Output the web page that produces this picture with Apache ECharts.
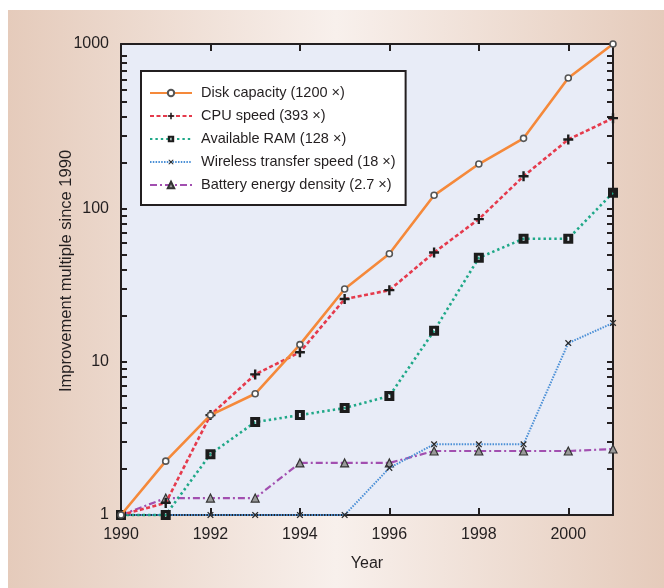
<!DOCTYPE html>
<html>
<head>
<meta charset="utf-8">
<script src="https://cdn.jsdelivr.net/npm/echarts@6/dist/echarts.min.js"></script>
<style>
  html, body { margin: 0; padding: 0; background: #ffffff; }
  #chart { width: 664px; height: 588px; }
</style>
</head>
<body>
<div id="chart"></div>
<script>
// Years on the horizontal axis
const years = [1990, 1991, 1992, 1993, 1994, 1995, 1996, 1997, 1998, 1999, 2000, 2001];

// Improvement multiple relative to 1990, one array per technology
const diskCapacity   = [1, 2.25, 4.5, 6.2, 13, 30, 51, 123, 197, 290, 720, 1200];
const cpuSpeed       = [1, 1.2, 4.5, 8.3, 11.6, 25.8, 29.5, 52, 86, 164, 285, 393];
const availableRam   = [1, 1, 2.5, 4.05, 4.5, 5, 6, 16, 48, 64, 64, 128];
const wirelessSpeed  = [1, 1, 1, 1, 1, 1, 2.03, 2.9, 2.9, 2.9, 13.3, 18];
const batteryDensity = [1, 1.29, 1.29, 1.29, 2.19, 2.19, 2.19, 2.62, 2.62, 2.62, 2.62, 2.7];

const seriesNames = [
  'Disk capacity (1200 \u00d7)',
  'CPU speed (393 \u00d7)',
  'Available RAM (128 \u00d7)',
  'Wireless transfer speed (18 \u00d7)',
  'Battery energy density (2.7 \u00d7)'
];

// Axis ticks and labels
const xLabelYears = [1990, 1992, 1994, 1996, 1998, 2000];
const yAxisTop = 1200;                     // upper end of the log axis
const yLabelValues = [1, 10, 100, yAxisTop];
const yLabelTexts  = ['1', '10', '100', '1000'];
const yTickValues  = [2, 3, 4, 5, 6, 7, 8, 9, 10, 20, 30, 40, 50, 60, 70, 80, 90, 100,
                      200, 300, 400, 500, 600, 700, 800, 900, 1000];

const FONT = '"Liberation Sans", Arial, sans-serif';
const INK = '#231f20';

const pairs = vals => years.map((y, i) => [y, vals[i]]);

const plusPath  = 'path://M3.8,0H6.2V3.8H10V6.2H6.2V10H3.8V6.2H0V3.8H3.8Z';
const crossPath = 'path://M4.2,0H5.8V4.2H10V5.8H5.8V10H4.2V5.8H0V4.2H4.2Z';
const boxPath   = 'path://M0,0H10V10H0Z M4,3V7H6V3Z';

const chart = echarts.init(document.getElementById('chart'), null, { renderer: 'canvas' });

const xAxisBase = {
  type: 'value', min: 1990, max: 2001,
  axisLine: { show: true, lineStyle: { color: INK, width: 2 } },
  splitLine: { show: false },
  axisTick: { show: true, inside: true, length: 7, lineStyle: { color: INK, width: 2 },
              customValues: xLabelYears }
};
const yAxisBase = {
  type: 'log', logBase: 10, min: 1, max: yAxisTop,
  axisLine: { show: true, lineStyle: { color: INK, width: 2 } },
  splitLine: { show: false },
  axisTick: { show: true, inside: true, length: 6, lineStyle: { color: INK, width: 2 },
              customValues: yTickValues }
};

chart.setOption({
  backgroundColor: '#ffffff',
  animation: false,
  graphic: [{
    type: 'rect', z: -100, silent: true,
    shape: { x: 8, y: 10, width: 656, height: 578 },
    style: {
      fill: new echarts.graphic.LinearGradient(0, 0, 1, 0, [
        { offset: 0, color: '#e5cbbb' },
        { offset: 0.5, color: '#f8f0ec' },
        { offset: 1, color: '#e5cbbb' }
      ])
    }
  }],
  grid: {
    left: 121, right: 51, top: 44, bottom: 73,
    show: true, backgroundColor: '#e8ecf7', borderWidth: 0
  },
  legend: {
    orient: 'vertical', left: 141, top: 71,
    backgroundColor: '#ffffff', borderColor: INK, borderWidth: 2, borderRadius: 0,
    padding: [14, 10, 12, 8],
    itemWidth: 42, itemHeight: 8, itemGap: 7,
    textStyle: { fontFamily: FONT, fontSize: 14.5, lineHeight: 16, color: INK, padding: [0, 0, 0, 4] },
    data: seriesNames
  },
  xAxis: [
    Object.assign({}, xAxisBase, {
      position: 'bottom',
      name: 'Year', nameLocation: 'middle', nameGap: 41, nameMoveOverlap: false,
      nameTextStyle: { fontFamily: FONT, fontSize: 16, color: INK },
      axisLabel: { show: true, margin: 12, fontFamily: FONT, fontSize: 16, color: INK,
                   customValues: xLabelYears, formatter: v => String(v) }
    }),
    Object.assign({}, xAxisBase, {
      position: 'top',
      axisLabel: { show: false }
    })
  ],
  yAxis: [
    Object.assign({}, yAxisBase, {
      position: 'left',
      name: 'Improvement multiple since 1990', nameLocation: 'middle', nameGap: 46,
      nameMoveOverlap: false,
      nameTextStyle: { fontFamily: FONT, fontSize: 16.5, color: INK, padding: [0, 0, 0, 17] },
      axisLabel: {
        show: true, margin: 12, fontFamily: FONT, fontSize: 16, color: INK,
        customValues: yLabelValues,
        formatter: v => {
          const i = yLabelValues.findIndex(u => Math.abs(u - v) / u < 1e-6);
          return i >= 0 ? yLabelTexts[i] : '';
        }
      }
    }),
    Object.assign({}, yAxisBase, {
      position: 'right',
      axisLabel: { show: false }
    })
  ],
  series: [
    {
      name: seriesNames[0], type: 'line', data: pairs(diskCapacity), clip: false, z: 6,
      color: '#f5893a',
      lineStyle: { color: '#f5893a', width: 2.6, type: 'solid' },
      symbol: 'circle', symbolSize: 6,
      itemStyle: { color: '#ffffff', borderColor: '#555555', borderWidth: 1.6 }
    },
    {
      name: seriesNames[1], type: 'line', data: pairs(cpuSpeed), clip: false, z: 5,
      color: '#e53a4c',
      lineStyle: { color: '#e53a4c', width: 2.6, type: [4, 2.5] },
      symbol: plusPath, symbolSize: 10,
      itemStyle: { color: '#1c1c1c' }
    },
    {
      name: seriesNames[2], type: 'line', data: pairs(availableRam), clip: false, z: 4,
      color: '#1fa888',
      lineStyle: { color: '#1fa888', width: 2.6, type: [2.4, 3] },
      symbol: boxPath, symbolSize: 10,
      itemStyle: { color: '#1c1c1c' }
    },
    {
      name: seriesNames[3], type: 'line', data: pairs(wirelessSpeed), clip: false, z: 3,
      color: '#4a8fd6',
      lineStyle: { color: '#4a8fd6', width: 2, type: [1.5, 1.3] },
      symbol: crossPath, symbolSize: 8, symbolRotate: 45,
      itemStyle: { color: '#2a2a2a' }
    },
    {
      name: seriesNames[4], type: 'line', data: pairs(batteryDensity), clip: false, z: 2,
      color: '#a24fb0',
      lineStyle: { color: '#a24fb0', width: 2.2, type: [7, 3, 2, 3] },
      symbol: 'triangle', symbolSize: 8,
      itemStyle: { color: '#9a9a9a', borderColor: '#333333', borderWidth: 1.2 }
    }
  ]
});
</script>
</body>
</html>
